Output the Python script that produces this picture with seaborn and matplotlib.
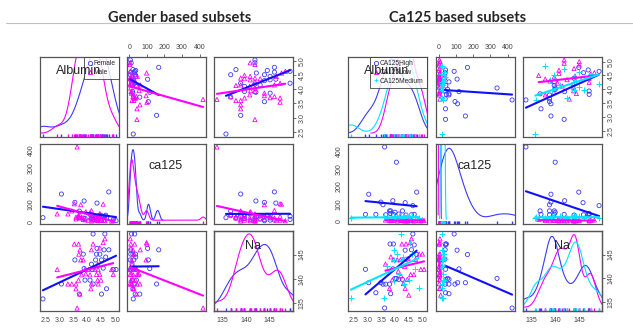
import pandas as pd
import seaborn as sns
import matplotlib.pyplot as plt
from matplotlib.lines import Line2D

# ---- Gender based subsets ----
female_albumin = [2.42, 4.21, 4.63, 4.77, 3.86, 4.33, 4.45, 3.56, 4.30, 4.51, 4.15, 4.57, 5.03,
                  4.93, 4.18, 3.89, 3.92, 4.10, 3.08, 4.21, 4.69, 4.51, 3.72, 4.35, 4.60, 4.66]
female_ca125 = [22, 12, 30, 167, 20, 8, 35, 108, 25, 5, 15, 28, 5,
                10, 20, 116, 18, 40, 155, 30, 20, 33, 59, 104, 8, 36]
female_na = [135.8, 149.3, 149.3, 146.0, 145.1, 145.1, 145.1, 143.9, 143.9, 143.9, 143.0, 142.2, 141.9,
             141.9, 141.9, 142.1, 139.7, 139.7, 138.9, 138.9, 137.9, 136.8, 136.8, 146.3, 146.0, 144.5]

male_albumin = [2.93, 3.54, 3.69, 3.74, 4.21, 4.63, 4.15, 3.77, 3.86, 3.70, 4.37, 3.92, 4.04, 4.27,
                4.39, 4.57, 4.87, 4.93, 4.33, 4.45, 3.69, 3.31, 3.45, 3.60, 3.60, 4.37, 4.49, 4.15,
                4.39, 3.74, 4.13, 3.64, 3.80, 4.10, 4.45, 3.95]
male_ca125 = [43, 100, 30, 20, 8, 5, 62, 95, 12, 25, 15, 10, 8, 30,
              5, 98, 3, 5, 12, 45, 35, 43, 60, 15, 25, 8, 18, 3,
              10, 40, 20, 420, 22, 50, 8, 55]
male_na = [141.9, 147.2, 147.2, 146.0, 147.2, 148.3, 146.0, 143.9, 143.9, 145.1, 143.0, 141.9, 141.9, 141.9,
           141.9, 147.5, 141.9, 140.9, 140.9, 140.9, 139.7, 138.9, 138.9, 138.9, 137.9, 139.7, 139.7, 138.9,
           138.9, 136.8, 137.9, 133.9, 140.8, 140.8, 146.4, 141.0]

# ---- Ca125 based subsets ----
high_albumin = [3.62, 4.05, 3.04, 4.79, 3.48, 3.56, 3.92, 4.37, 2.92, 3.30, 3.80,
                3.84, 4.00, 4.27, 4.60, 4.70, 4.40, 4.65, 3.82, 3.94, 4.14, 3.66]
high_ca125 = [425, 338, 155, 167, 110, 95, 118, 107, 40, 40, 60,
              60, 52, 60, 38, 40, 36, 90, 45, 40, 42, 38]
high_na = [133.8, 140.0, 139.1, 145.0, 139.1, 138.8, 142.0, 145.9, 141.9, 137.0, 138.8,
           136.8, 140.0, 139.8, 146.0, 147.0, 144.0, 149.3, 147.2, 147.2, 139.8, 138.8]

low_albumin = [4.25, 4.40, 4.60, 4.55, 4.08, 4.20, 3.95, 4.88, 5.00, 4.94, 5.06, 4.57, 4.69,
               3.90, 4.30, 4.37, 3.80, 4.45, 4.35, 4.12, 4.75, 3.65, 4.50, 4.22, 3.85, 4.48]
low_ca125 = [5, 3, 8, 6, 2, 10, 7, 4, 9, 3, 5, 8, 2,
             6, 4, 10, 5, 7, 3, 9, 5, 8, 12, 6, 4, 2]
low_na = [147.2, 147.2, 148.3, 147.5, 143.9, 143.9, 143.9, 145.1, 145.1, 141.9, 141.9, 140.8, 140.8,
          139.7, 138.9, 137.9, 137.9, 139.8, 142.5, 141.5, 144.0, 143.0, 136.5, 140.5, 144.5, 144.2]

medium_albumin = [2.39, 4.20, 3.96, 4.08, 4.62, 4.26, 3.96, 4.74, 4.86,
                  4.33, 3.98, 4.50, 3.70, 4.45, 4.15, 4.55, 3.60, 4.30]
medium_ca125 = [20, 22, 18, 25, 30, 20, 28, 15, 22,
                18, 25, 30, 20, 35, 28, 16, 24, 32]
medium_na = [135.8, 149.3, 146.0, 145.1, 145.1, 143.9, 143.9, 141.9, 137.9,
             138.9, 139.4, 139.7, 142.5, 144.0, 141.0, 147.5, 136.0, 144.5]

variables = ['Albumin', 'ca125', 'Na']
tick_values = {'Albumin': [2.5, 3.0, 3.5, 4.0, 4.5, 5.0],
               'ca125': [0, 100, 200, 300, 400],
               'Na': [135, 140, 145]}
tick_labels = {'Albumin': ['2.5', '3.0', '3.5', '4.0', '4.5', '5.0'],
               'ca125': ['0', '100', '200', '300', '400'],
               'Na': ['135', '140', '145']}

colors = {'Female': '#3a3aff', 'Male': '#ff00ff',
          'CA125High': '#3a3aff', 'CA125Low': '#ff00ff', 'CA125Medium': '#00e5ff'}
line_colors = {'Female': '#1010ff', 'Male': '#ff00ff',
               'CA125High': '#1010ff', 'CA125Low': '#ff00ff', 'CA125Medium': '#00e5ff'}
markers = {'Female': 'o', 'Male': '^', 'CA125High': 'o', 'CA125Low': '^', 'CA125Medium': '+'}
label_y = {'Albumin': 0.82, 'ca125': 0.72, 'Na': 0.81}

# diagonal density settings: bandwidth, reference group for the y scale (None = all) and headroom
gender_diag = {'Albumin': (0.9, None, 0.85), 'ca125': (0.35, 0, 1.08), 'Na': (0.85, None, 1.04)}
ca_diag = {'Albumin': (0.9, None, 0.75), 'ca125': (1.0, 0, 1.06), 'Na': (0.6, None, 1.05)}


def make_df(parts):
    frames = []
    for name, alb, ca, na in parts:
        frames.append(pd.DataFrame({'Albumin': alb, 'ca125': ca, 'Na': na, 'group': name}))
    return pd.concat(frames, ignore_index=True)


gender_df = make_df([('Female', female_albumin, female_ca125, female_na),
                     ('Male', male_albumin, male_ca125, male_na)])
ca_df = make_df([('CA125High', high_albumin, high_ca125, high_na),
                 ('CA125Low', low_albumin, low_ca125, low_na),
                 ('CA125Medium', medium_albumin, medium_ca125, medium_na)])

sns.set_style('white')
plt.rcParams['font.family'] = ['Liberation Sans', 'DejaVu Sans']

W, H = 633, 329
PW, PH = 79, 80
row_tops = [57, 144, 231]
fig = plt.figure(figsize=(W / 100, H / 100), dpi=100)


def style_ticks(ax, axis, var, side):
    if axis == 'x':
        ax.set_xticks(tick_values[var])
        ax.set_xticklabels(tick_labels[var])
        if side == 'top':
            ax.xaxis.tick_top()
    else:
        ax.set_yticks(tick_values[var])
        ax.set_yticklabels(tick_labels[var], rotation=90, va='center')
        if side == 'right':
            ax.yaxis.tick_right()
    ax.tick_params(axis=axis, length=2.5, width=0.6, color='#555555',
                   labelsize=5, labelcolor='#444444', pad=1.5)


def draw_matrix(df, groups, col_lefts, diag, title, title_x):
    lims = {}
    for v in variables:
        lo, hi = df[v].min(), df[v].max()
        pad = 0.04 * (hi - lo)
        lims[v] = (lo - pad, hi + pad)

    for i, yv in enumerate(variables):
        for j, xv in enumerate(variables):
            ax = fig.add_axes([col_lefts[j] / W, 1 - (row_tops[i] + PH) / H, PW / W, PH / H])
            if i == j:
                bw, ref_idx, headroom = diag[xv]
                peaks = []
                for g in groups:
                    sub = df[df['group'] == g]
                    sns.kdeplot(x=sub[xv], ax=ax, color=colors[g], lw=0.8, bw_adjust=bw)
                    peaks.append(ax.lines[-1].get_ydata().max())
                    sns.rugplot(x=sub[xv], ax=ax, color=colors[g], height=0.035, lw=0.6)
                ref = max(peaks) if ref_idx is None else peaks[ref_idx]
                top = headroom * ref
                ax.set_ylim(-0.05 * top, top)
                ax.text(0.49, label_y[xv], xv, transform=ax.transAxes, ha='center', va='center',
                        fontsize=9, zorder=10)
            else:
                for g in groups:
                    sub = df[df['group'] == g]
                    if markers[g] == '+':
                        sns.scatterplot(x=sub[xv], y=sub[yv], ax=ax, color=colors[g], marker='+',
                                        s=16, linewidth=0.7)
                    else:
                        sns.scatterplot(x=sub[xv], y=sub[yv], ax=ax, color=colors[g], marker=markers[g],
                                        s=9, facecolor='none', edgecolor=colors[g], linewidth=0.6)
                for g in groups:
                    sub = df[df['group'] == g]
                    sns.regplot(x=sub[xv], y=sub[yv], ax=ax, scatter=False, ci=None,
                                color=line_colors[g], line_kws={'lw': 1.5})
                ax.set_ylim(lims[yv])
            ax.set_xlim(lims[xv])
            ax.set_xlabel('')
            ax.set_ylabel('')
            ax.set_xticks([])
            ax.set_yticks([])
            for sp in ax.spines.values():
                sp.set_color('#555555')
                sp.set_linewidth(0.9)

            if i == 0 and j == 1:
                style_ticks(ax, 'x', xv, 'top')
            if i == 0 and j == 2:
                style_ticks(ax, 'y', yv, 'right')
            if i == 1 and j == 0:
                style_ticks(ax, 'y', yv, 'left')
            if i == 2 and j != 1:
                style_ticks(ax, 'x', xv, 'bottom')
            if i == 2 and j == 2:
                twin = ax.twinx()
                twin.set_ylim(lims['Na'])
                style_ticks(twin, 'y', 'Na', 'right')
                for sp in twin.spines.values():
                    sp.set_color('#555555')
                    sp.set_linewidth(0.9)

            if i == 0 and j == 0:
                handles = [Line2D([], [], ls='', marker=markers[g], color=colors[g], mfc='none',
                                  markersize=3, mew=0.6) for g in groups]
                leg = ax.legend(handles, groups, loc='upper right', fontsize=4.8, frameon=True,
                                fancybox=False, edgecolor='#333333', borderpad=0.5,
                                handletextpad=0.2, handlelength=0.8, labelspacing=0.25,
                                borderaxespad=0)
                leg.get_frame().set_linewidth(0.7)
                leg.set_zorder(5)

    fig.text(title_x / W, 1 - 18 / H, title, ha='center', va='center', fontsize=10.5,
             fontweight='bold', family=['Lato', 'DejaVu Sans'])


fig.add_artist(Line2D([6 / W, 1], [1 - 23 / H, 1 - 23 / H], color='#c0c0c0', lw=0.8))

draw_matrix(gender_df, ['Female', 'Male'], [40, 127, 214],
            gender_diag, 'Gender based subsets', 180)
draw_matrix(ca_df, ['CA125High', 'CA125Low', 'CA125Medium'], [348, 436, 523],
            ca_diag, 'Ca125 based subsets', 458)

fig.savefig('out.png', dpi=100)
